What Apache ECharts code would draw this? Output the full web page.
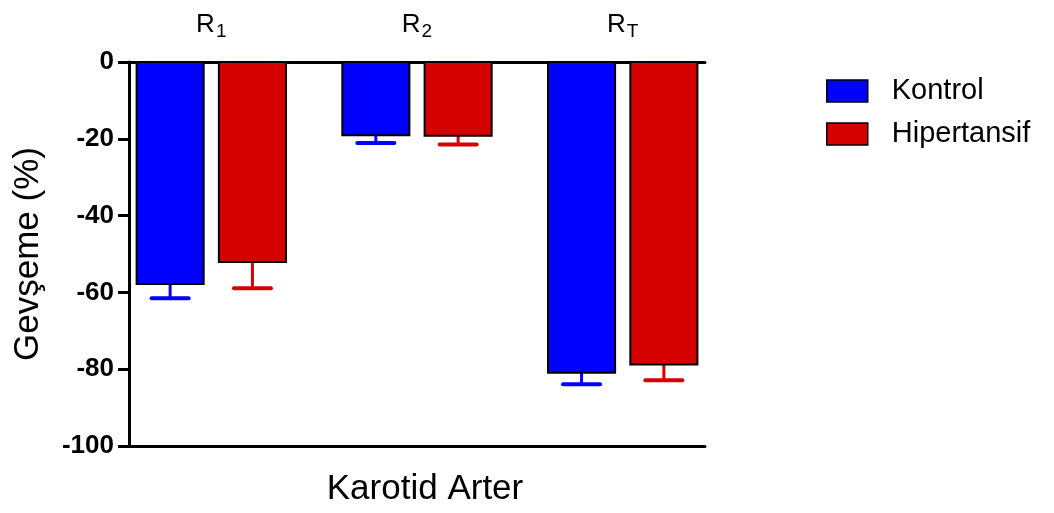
<!DOCTYPE html>
<html>
<head>
<meta charset="utf-8">
<script src="https://cdn.jsdelivr.net/npm/echarts@6/dist/echarts.min.js"></script>
<style>
  html, body { margin: 0; padding: 0; background: #fff; }
  #chart { width: 1054px; height: 513px; }
</style>
</head>
<body>
<div id="chart"></div>
<script>
// Group labels (R with subscript) and bar data, relaxation in %
const groupBase = ['R', 'R', 'R'];
const groupSub = ['1', '2', 'T'];
const kontrol = [-57.8, -19.1, -80.9];
const kontrolErr = [3.7, 2.0, 3.0];
const hipertansif = [-52.1, -19.2, -78.8];
const hipertansifErr = [6.8, 2.3, 4.1];
const yTicks = [-100, -80, -60, -40, -20, 0];

const FONT = '"Liberation Sans", Arial, sans-serif';

// Bar layout within each group, in category units
const BAR_W = 0.326;
const CAP_W = 0.18;

function barRenderer(offset) {
  return function (params, api) {
    const i = api.value(0);
    const v = api.value(1);
    const e = api.value(2);
    const unit = api.size([1, 0])[0];
    const base = api.coord([i, 0]);
    const cx = base[0] + offset * unit;
    const w = BAR_W * unit;
    const capW = CAP_W * unit;
    const yTop = base[1];
    const yBot = api.coord([i, v])[1];
    const yErr = api.coord([i, v - e])[1];
    const color = api.visual('color');
    return {
      type: 'group',
      children: [
        {
          type: 'line',
          shape: { x1: cx, y1: yBot, x2: cx, y2: yErr },
          style: { stroke: color, lineWidth: 3 }
        },
        {
          type: 'line',
          shape: { x1: cx - capW / 2, y1: yErr, x2: cx + capW / 2, y2: yErr },
          style: { stroke: color, lineWidth: 4, lineCap: 'round' }
        },
        {
          type: 'rect',
          shape: { x: cx - w / 2, y: yTop, width: w, height: yBot - yTop },
          style: { fill: color, stroke: '#000', lineWidth: 2 }
        }
      ]
    };
  };
}

function toData(vals, errs) {
  return vals.map((v, i) => [i, v, errs[i]]);
}

const chart = echarts.init(document.getElementById('chart'), null, { renderer: 'canvas' });

chart.setOption({
  animation: false,
  backgroundColor: '#fff',
  grid: { left: 129, right: 349, top: 62, bottom: 67, containLabel: false },
  legend: {
    orient: 'vertical',
    left: 826,
    top: 76,
    itemWidth: 41,
    itemHeight: 22,
    itemGap: 13,
    icon: 'rect',
    padding: 0,
    itemStyle: { borderColor: '#000', borderWidth: 1.5 },
    textStyle: { fontFamily: FONT, fontSize: 29, color: '#000', lineHeight: 30, padding: [0, 0, 0, 19] },
    data: ['Kontrol', 'Hipertansif']
  },
  xAxis: [
    {
      type: 'value',
      position: 'bottom',
      min: -0.4,
      max: 2.4,
      name: 'Karotid Arter',
      nameLocation: 'middle',
      nameGap: 26,
      nameTextStyle: { fontFamily: FONT, fontSize: 35, color: '#000', padding: [0, 0, 0, 16] },
      axisLine: { show: true, onZero: false, lineStyle: { color: '#000', width: 3 } },
      axisTick: { show: false },
      axisLabel: { show: false },
      splitLine: { show: false }
    },
    {
      type: 'value',
      position: 'top',
      min: -0.4,
      max: 2.4,
      axisLine: { show: true, onZero: false, lineStyle: { color: '#000', width: 3 } },
      axisTick: { show: false },
      splitLine: { show: false },
      axisLabel: {
        show: true,
        customValues: [0, 1, 2],
        margin: 24,
        formatter: function (val) {
          const i = Math.round(val);
          return '{r|' + groupBase[i] + '}{s|' + groupSub[i] + '}';
        },
        rich: {
          r: { fontFamily: FONT, fontSize: 26, color: '#000', lineHeight: 26, verticalAlign: 'top' },
          s: { fontFamily: FONT, fontSize: 19, color: '#000', lineHeight: 19, verticalAlign: 'top', padding: [10, 0, 0, 1] }
        }
      }
    }
  ],
  yAxis: {
    type: 'value',
    min: -100,
    max: 0,
    interval: 20,
    name: 'Gevşeme (%)',
    nameLocation: 'middle',
    nameGap: 83,
    nameRotate: 90,
    nameTextStyle: { fontFamily: FONT, fontSize: 35, color: '#000' },
    axisLine: { show: true, onZero: false, lineStyle: { color: '#000', width: 3 } },
    axisTick: { show: true, length: 11, lineStyle: { color: '#000', width: 3 } },
    axisLabel: {
      margin: 15,
      fontFamily: FONT,
      fontWeight: 'bold',
      fontSize: 26,
      color: '#000',
      formatter: function (v) { return yTicks.indexOf(v) >= 0 ? String(v) : ''; }
    },
    splitLine: { show: false }
  },
  series: [
    {
      name: 'Kontrol',
      type: 'custom',
      xAxisIndex: 0,
      itemStyle: { color: '#0000ff', borderColor: '#000', borderWidth: 1.5 },
      renderItem: barRenderer(-0.2),
      encode: { x: 0, y: 1 },
      data: toData(kontrol, kontrolErr),
      z: 3
    },
    {
      name: 'Hipertansif',
      type: 'custom',
      xAxisIndex: 0,
      itemStyle: { color: '#d50000', borderColor: '#000', borderWidth: 1.5 },
      renderItem: barRenderer(0.2),
      encode: { x: 0, y: 1 },
      data: toData(hipertansif, hipertansifErr),
      z: 3
    }
  ]
});
</script>
</body>
</html>
